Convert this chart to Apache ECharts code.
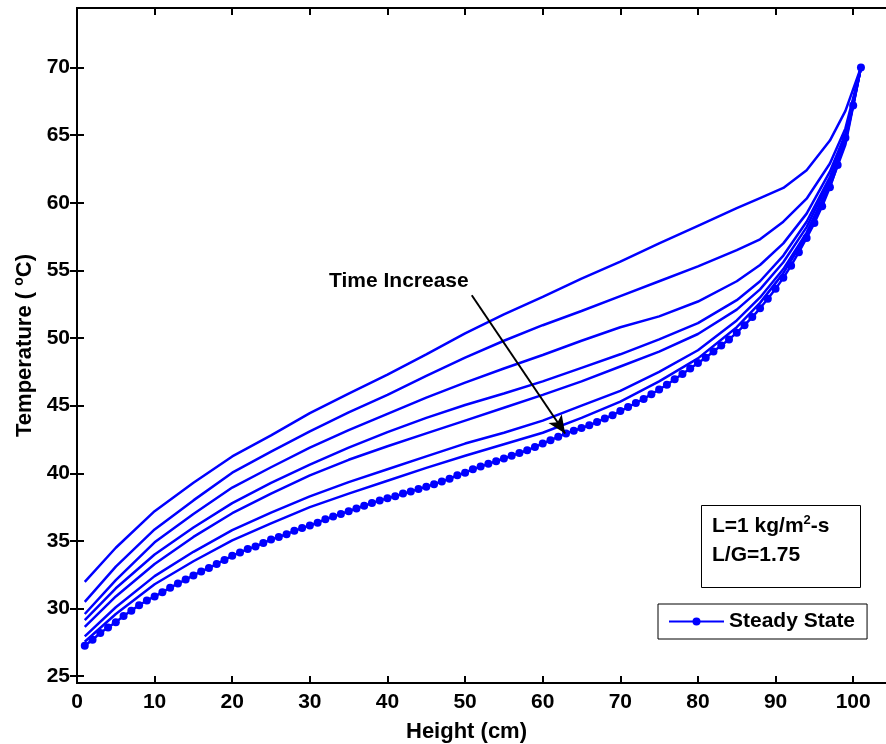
<!DOCTYPE html>
<html>
<head>
<meta charset="utf-8">
<script src="https://cdn.jsdelivr.net/npm/echarts@6/dist/echarts.min.js"></script>
<style>
html, body { margin: 0; padding: 0; background: #fff; }
#main { width: 886px; height: 744px; }
</style>
</head>
<body>
<div id="main"></div>
<script>
// heights (cm) of the steady state nodes
var steadyHeight = [
  1, 2, 3, 4, 5, 6, 7, 8, 9, 10, 11, 12, 13, 14, 15, 16, 17, 18, 19, 20,
  21, 22, 23, 24, 25, 26, 27, 28, 29, 30, 31, 32, 33, 34, 35, 36, 37, 38, 39, 40,
  41, 42, 43, 44, 45, 46, 47, 48, 49, 50, 51, 52, 53, 54, 55, 56, 57, 58, 59, 60,
  61, 62, 63, 64, 65, 66, 67, 68, 69, 70, 71, 72, 73, 74, 75, 76, 77, 78, 79, 80,
  81, 82, 83, 84, 85, 86, 87, 88, 89, 90, 91, 92, 93, 94, 95, 96, 97, 98, 99, 100, 101
];
var steadyTemp = [
  27.25, 27.7, 28.2, 28.6, 29.0, 29.45, 29.85, 30.25, 30.6, 30.9,
  31.2, 31.55, 31.85, 32.15, 32.45, 32.75, 33.0, 33.3, 33.6, 33.9,
  34.15, 34.4, 34.6, 34.85, 35.1, 35.3, 35.5, 35.75, 35.95, 36.15,
  36.35, 36.6, 36.8, 37.0, 37.2, 37.4, 37.6, 37.8, 38.0, 38.15,
  38.3, 38.5, 38.65, 38.85, 39.0, 39.2, 39.4, 39.6, 39.85, 40.05,
  40.3, 40.5, 40.7, 40.9, 41.1, 41.3, 41.5, 41.7, 41.95, 42.2,
  42.45, 42.7, 42.95, 43.15, 43.35, 43.55, 43.8, 44.05, 44.3, 44.6,
  44.9, 45.2, 45.5, 45.85, 46.2, 46.55, 46.95, 47.35, 47.75, 48.15,
  48.55, 49.0, 49.45, 49.9, 50.4, 50.95, 51.55, 52.2, 52.9, 53.65,
  54.45, 55.35, 56.35, 57.4, 58.5, 59.75, 61.15, 62.8, 64.8, 67.2, 70.0
];

// transient profiles (earliest first)
var transHeight = [1, 5, 10, 15, 20, 25, 30, 35, 40, 45, 50, 55, 60, 65, 70, 75, 80, 85, 88, 91, 94, 97, 99, 101];
var transTemp = [
  [31.97, 34.5, 37.2, 39.3, 41.25, 42.8, 44.45, 45.9, 47.3, 48.8, 50.35, 51.75, 53.05, 54.4, 55.65, 57.0, 58.3, 59.6, 60.35, 61.1, 62.4, 64.6, 66.8, 70.0],
  [30.5, 33.1, 35.85, 38.0, 40.05, 41.6, 43.1, 44.5, 45.8, 47.2, 48.55, 49.8, 50.95, 52.0, 53.1, 54.2, 55.3, 56.5, 57.3, 58.6, 60.3, 62.9, 65.5, 70.0],
  [29.6, 32.1, 34.9, 37.0, 38.95, 40.45, 41.9, 43.2, 44.4, 45.6, 46.7, 47.75, 48.75, 49.8, 50.8, 51.6, 52.7, 54.2, 55.4, 57.0, 59.2, 62.3, 65.1, 70.0],
  [29.15, 31.5, 34.0, 36.0, 37.8, 39.3, 40.65, 41.9, 43.05, 44.1, 45.05, 45.9, 46.8, 47.8, 48.8, 49.9, 51.1, 52.8, 54.2, 56.1, 58.6, 61.9, 64.9, 70.0],
  [28.65, 30.9, 33.3, 35.3, 37.05, 38.5, 39.85, 41.0, 42.0, 42.95, 43.9, 44.85, 45.8, 46.8, 47.9, 49.0, 50.3, 52.1, 53.6, 55.6, 58.2, 61.7, 64.7, 70.0],
  [27.95, 30.1, 32.4, 34.2, 35.8, 37.1, 38.3, 39.35, 40.3, 41.25, 42.2, 43.0, 43.9, 45.0, 46.1, 47.5, 49.1, 51.3, 53.0, 55.1, 57.8, 61.4, 64.5, 70.0],
  [27.55, 29.6, 31.8, 33.5, 35.05, 36.3, 37.5, 38.5, 39.45, 40.4, 41.3, 42.15, 43.0, 44.1, 45.3, 46.8, 48.5, 50.8, 52.6, 54.8, 57.6, 61.2, 64.3, 70.0]
];

var xTicks = [0, 10, 20, 30, 40, 50, 60, 70, 80, 90, 100];
var yTicks = [25, 30, 35, 40, 45, 50, 55, 60, 65, 70];

var FONT = "'Liberation Sans', Arial, sans-serif";
var myChart = echarts.init(document.getElementById('main'));

function pairs(xs, ys) {
  var out = [];
  for (var i = 0; i < xs.length; i++) out.push([xs[i], ys[i]]);
  return out;
}

var spine = { lineStyle: { color: '#000', width: 2 } };
var tick = function (vals) {
  return { inside: true, length: 7, customValues: vals, lineStyle: { color: '#000', width: 2 } };
};
var lbl = { fontSize: 21, fontWeight: 'bold', color: '#000', fontFamily: FONT };

var series = [];
transTemp.forEach(function (row, i) {
  series.push({
    name: 'run' + i,
    type: 'line',
    data: pairs(transHeight, row),
    showSymbol: false,
    symbol: 'none',
    lineStyle: { color: '#0000ff', width: 2.5 },
    silent: true,
    z: 2
  });
});
series.push({
  name: 'Steady State',
  type: 'line',
  data: pairs(steadyHeight, steadyTemp),
  symbol: 'circle',
  symbolSize: 8,
  itemStyle: { color: '#0000ff' },
  lineStyle: { color: '#0000ff', width: 2.5 },
  z: 3,
  markLine: {
    silent: true,
    symbol: ['none', 'arrow'],
    symbolSize: [12, 18],
    label: { show: false },
    lineStyle: { color: '#000', width: 2, type: 'solid' },
    data: [[{ coord: [50.86, 53.16] }, { coord: [62.89, 42.94] }]]
  }
});

var option = {
  animation: false,
  backgroundColor: '#fff',
  grid: { left: 77, top: 8, width: 815, height: 675, outerBoundsMode: 'none', containLabel: false },
  xAxis: [{
    type: 'value', min: 0, max: 105, position: 'bottom',
    name: 'Height (cm)', nameLocation: 'middle', nameGap: 38,
    nameTextStyle: { fontSize: 22, fontWeight: 'bold', color: '#000', fontFamily: FONT, padding: [0, 36, 0, 0] },
    axisLine: spine, axisTick: tick(xTicks),
    axisLabel: Object.assign({ customValues: xTicks, margin: 9 }, lbl),
    splitLine: { show: false }
  }, {
    type: 'value', min: 0, max: 105, position: 'top',
    axisLine: spine, axisTick: tick(xTicks),
    axisLabel: { show: false }, splitLine: { show: false }
  }],
  yAxis: [{
    type: 'value', min: 24.5, max: 74.4, position: 'left',
    name: '{a|Temperature ( }{s|o}{a|C)}', nameLocation: 'middle', nameGap: 40, nameRotate: 90,
    nameTextStyle: {
      rich: {
        a: { fontSize: 22, fontWeight: 'bold', color: '#000', fontFamily: FONT },
        s: { fontSize: 14, fontWeight: 'bold', color: '#000', fontFamily: FONT, padding: [0, 0, 11, 0] }
      }
    },
    axisLine: spine, axisTick: tick(yTicks),
    axisLabel: Object.assign({ customValues: yTicks, margin: 7 }, lbl),
    splitLine: { show: false }
  }, {
    type: 'value', min: 24.5, max: 74.4, position: 'right',
    axisLine: spine, axisTick: tick(yTicks),
    axisLabel: { show: false }, splitLine: { show: false }
  }],
  legend: {
    data: ['Steady State'],
    left: 658, top: 604,
    padding: [7, 12, 7, 10],
    borderColor: '#000', borderWidth: 1, backgroundColor: '#fff',
    itemWidth: 55, itemHeight: 10, itemGap: 5,
    textStyle: { fontSize: 21, fontWeight: 'bold', color: '#000', fontFamily: FONT }
  },
  graphic: [{
    type: 'rect', left: 701, top: 505, z: 10,
    shape: { width: 159, height: 82 },
    style: { fill: '#fff', stroke: '#000', lineWidth: 1 }
  }, {
    type: 'text', left: 712, top: 514, z: 11,
    style: {
      text: '{a|L=1 kg/m}{s|2}{a|-s}\n{a|L/G=1.75}',
      rich: {
        a: { fontSize: 21, fontWeight: 'bold', fill: '#000', fontFamily: FONT, lineHeight: 29 },
        s: { fontSize: 13, fontWeight: 'bold', fill: '#000', fontFamily: FONT, padding: [0, 0, 12, 0] }
      }
    }
  }, {
    type: 'text', left: 329, top: 271, z: 11,
    style: { text: 'Time Increase', fontSize: 21, fontWeight: 'bold', fill: '#000', fontFamily: FONT }
  }],
  series: series
};

myChart.setOption(option);
</script>
</body>
</html>
